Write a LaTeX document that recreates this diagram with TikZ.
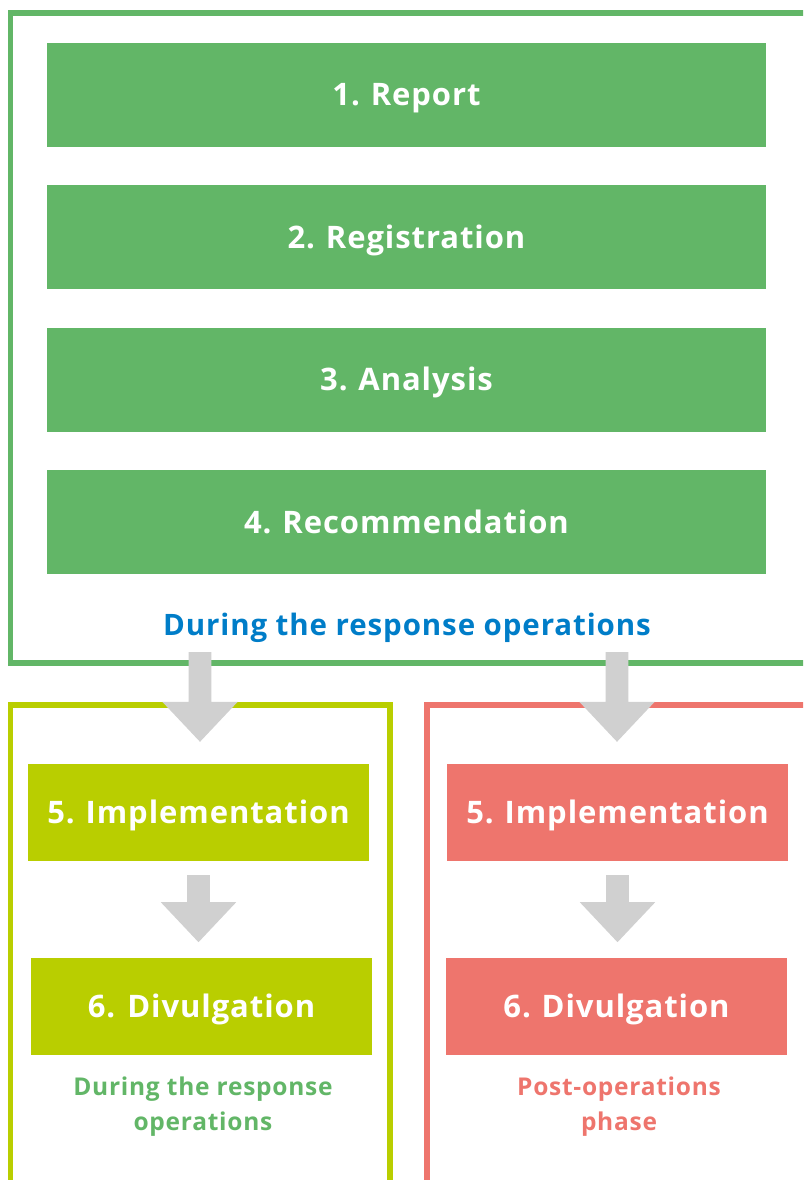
\documentclass[tikz,border=0pt]{standalone}
\usepackage{fontspec}
\setmainfont[LetterSpace=3]{Open Sans}
\usetikzlibrary{positioning,calc}

\definecolor{phasegreen}{RGB}{98,182,103}
\definecolor{phaselime}{RGB}{185,206,0}
\definecolor{phasered}{RGB}{238,117,109}
\definecolor{phaseblue}{RGB}{0,125,200}
\definecolor{arrowgray}{RGB}{208,208,208}

\tikzset{
	stepbox/.style={fill=#1, text=white, inner sep=0pt, text height=22pt, text depth=0pt,
		font=\fontsize{31}{36}\selectfont\bfseries},
	bigstep/.style={stepbox=phasegreen, minimum width=719pt, minimum height=104pt},
	smallstep/.style={stepbox=#1, minimum width=341pt, minimum height=97pt},
	frame/.style={draw=#1, line width=5.3pt},
	caption/.style={text=#1, align=center, font=\fontsize{24.5}{35}\selectfont\bfseries},
}

% block arrow: shaft top, tip
\newcommand{\blockarrow}[2]{%
	\path (#1) coordinate (ba-top) (#2) coordinate (ba-tip);
	\fill[arrowgray] let \p1=(ba-top), \p2=(ba-tip) in
		(\x1-11.3pt,\y1) -- (\x1+11.3pt,\y1) -- (\x1+11.3pt,\y2+40pt) -- (\x1+37.7pt,\y2+40pt)
		-- (\x1,\y2) -- (\x1-37.7pt,\y2+40pt) -- (\x1-11.3pt,\y2+40pt) -- cycle;%
}

\begin{document}
\begin{tikzpicture}[x=1pt, y=-1pt]
	\useasboundingbox (0,0) rectangle (803,1180);
	\clip (0,0) rectangle (803,1180);

	%Rahmen
	\draw[frame=phasegreen] (10.5,13) rectangle (830,663);
	\draw[frame=phaselime] (10.5,705) rectangle (390,1200);
	\draw[frame=phasered] (427,705) rectangle (830,1200);

	%Schritte 1-4
	\node[bigstep] (report) at (406.5,95) {1.\hspace{0.35em}Report};
	\node[bigstep, below=38pt of report] (registration) {2.\hspace{0.35em}Registration};
	\node[bigstep, below=38pt of registration] (analysis) {3.\hspace{0.35em}Analysis};
	\node[bigstep, below=38pt of analysis] (recommendation) {4.\hspace{0.35em}Recommendation};
	\node[caption=phaseblue, font=\fontsize{29.5}{35}\selectfont\bfseries] (during) at (407,628) {During the response operations};

	%Schritte 5-6
	\node[smallstep=phaselime] (implL) at (198.5,812.5) {5.\hspace{0.35em}Implementation};
	\node[smallstep=phaselime, below=97pt of implL.south west, anchor=north west, xshift=3pt] (divL) {6. Divulgation};
	\node[smallstep=phasered] (implR) at (617.5,812.5) {5.\hspace{0.35em}Implementation};
	\node[smallstep=phasered, below=97pt of implR.south west, anchor=north west, xshift=-1pt] (divR) {6.\hspace{0.35em}Divulgation};

	\node[caption=phasegreen] (captL) at (203,1106.5) {During the response\\operations};
	\node[caption=phasered] (captR) at (619,1106.5) {Post-operations\\phase};

	%Pfeile
	\blockarrow{200,652}{$(implL.north)+(1.5,-22)$}
	\blockarrow{617,652}{$(implR.north)+(-0.5,-22)$}
	\blockarrow{$(implL.south)+(0,14)$}{$(divL.north)+(-3,-16)$}
	\blockarrow{$(implR.south)+(0,14)$}{$(divR.north)+(1,-16)$}
\end{tikzpicture}
\end{document}
